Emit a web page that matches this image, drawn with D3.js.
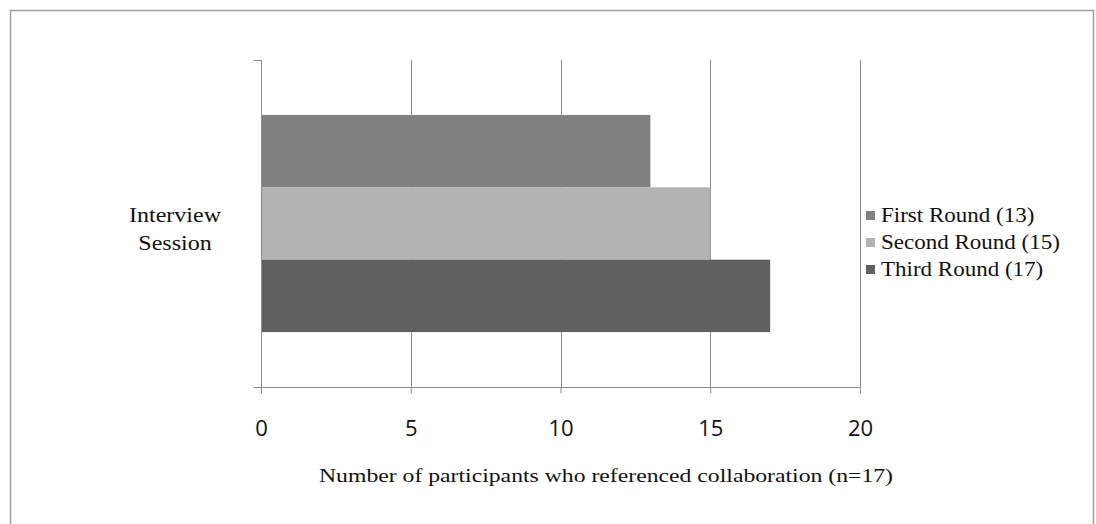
<!DOCTYPE html>
<html>
<head>
<meta charset="utf-8">
<script src="https://cdn.jsdelivr.net/npm/d3@7"></script>
<style>
  html, body { margin: 0; padding: 0; background: #fff; }
  svg { display: block; }
</style>
</head>
<body>
<svg id="chart" width="1096" height="524"></svg>
<script>
// Participants referencing collaboration, per interview round
const categories = ["Interview Session"];
const seriesNames = ["First Round (13)", "Second Round (15)", "Third Round (17)"];
const seriesValues = [13, 15, 17];
const seriesColors = ["#808080", "#b3b3b3", "#606060"];
const xTicks = [0, 5, 10, 15, 20];
const axisTitle = "Number of participants who referenced collaboration (n=17)";

const svg = d3.select("#chart");
const serif = "'Liberation Serif', 'Times New Roman', serif";
const sans = "'Open Sans', 'Noto Sans', sans-serif";

// chart frame
svg.append("rect")
  .attr("x", 10.5).attr("y", 10.5)
  .attr("width", 1083).attr("height", 540)
  .attr("fill", "#fff").attr("stroke", "#a0a0a0").attr("stroke-width", 1.5);

const plot = { left: 261, right: 860, top: 60, bottom: 387 };

const x = d3.scaleLinear().domain([0, 20]).range([plot.left, plot.right]);
const yCat = d3.scaleBand().domain(categories).range([plot.top, plot.bottom]).paddingInner(0).paddingOuter(0.253);
const ySeries = d3.scaleBand().domain(seriesNames).range([0, yCat.bandwidth()]).padding(0);

// vertical gridlines
svg.append("g").selectAll("line")
  .data(xTicks.filter(d => d > 0))
  .join("line")
  .attr("x1", d => Math.round(x(d)) + 0.5).attr("x2", d => Math.round(x(d)) + 0.5)
  .attr("y1", plot.top).attr("y2", plot.bottom)
  .attr("stroke", "#8c8c8c").attr("stroke-width", 1);

// bars
const rows = seriesNames.map((s, i) => ({ cat: categories[0], name: s, value: seriesValues[i], color: seriesColors[i] }));
svg.append("g").selectAll("rect")
  .data(rows)
  .join("rect")
  .attr("x", x(0))
  .attr("y", d => yCat(d.cat) + ySeries(d.name))
  .attr("width", d => x(d.value) - x(0))
  .attr("height", ySeries.bandwidth())
  .attr("fill", d => d.color);

// x axis
const xAxis = svg.append("g")
  .attr("transform", `translate(0,${plot.bottom + 0.5})`)
  .call(d3.axisBottom(x).tickValues(xTicks).tickSize(6).tickPadding(27));
xAxis.select(".domain").attr("stroke", "#8c8c8c").attr("d", `M${plot.left},0H${plot.right}`);
xAxis.selectAll(".tick line").attr("stroke", "#8c8c8c");
xAxis.selectAll(".tick text")
  .attr("font-family", sans).attr("font-size", 22).attr("fill", "#111");

// y axis
const yAxis = svg.append("g")
  .attr("transform", `translate(${plot.left + 0.5},0)`)
  .call(d3.axisLeft(d3.scaleLinear().domain([0, 1]).range([plot.bottom, plot.top]))
    .tickValues([0, 1]).tickSize(8).tickFormat(""));
yAxis.select(".domain").attr("stroke", "#8c8c8c").attr("d", `M0,${plot.top}V${plot.bottom}`);
yAxis.selectAll(".tick line").attr("stroke", "#8c8c8c");

// category label, two centred lines
const catLabel = svg.append("text")
  .attr("transform", "translate(175,222) scale(1.2,1)")
  .attr("text-anchor", "middle")
  .attr("font-family", serif).attr("font-size", 20).attr("fill", "#111");
const words = categories[0].split(" ");
catLabel.selectAll("tspan").data(words).join("tspan")
  .attr("x", 0).attr("dy", (d, i) => i === 0 ? 0 : 28)
  .text(d => d);

// axis title
svg.append("text")
  .attr("x", 606).attr("y", 482)
  .attr("text-anchor", "middle")
  .attr("font-family", serif).attr("font-size", 19).attr("fill", "#111")
  .attr("textLength", 574).attr("lengthAdjust", "spacingAndGlyphs")
  .text(axisTitle);

// legend
const legend = svg.append("g").selectAll("g")
  .data(rows)
  .join("g")
  .attr("transform", (d, i) => `translate(866,${215 + i * 27})`);
legend.append("rect")
  .attr("x", 0).attr("y", -4).attr("width", 9).attr("height", 9)
  .attr("fill", d => d.color);
legend.append("text")
  .attr("transform", "translate(15,6.5) scale(1.15,1)")
  .attr("font-family", serif).attr("font-size", 20).attr("fill", "#111")
  .text(d => d.name);
</script>
</body>
</html>
